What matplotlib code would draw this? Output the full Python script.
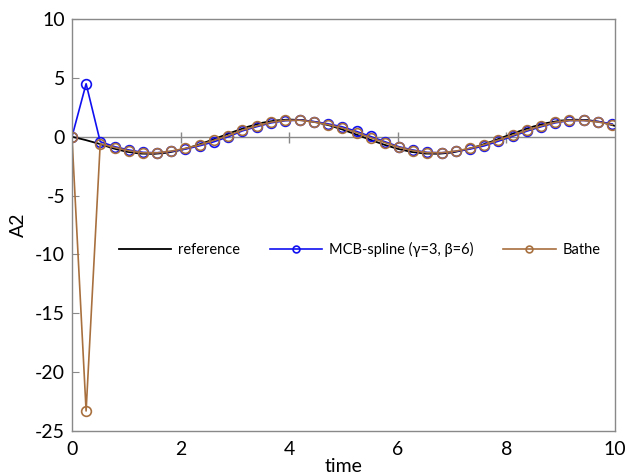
import matplotlib as mpl
mpl.use('Agg')
import matplotlib.pyplot as plt

plt.rcParams['font.family'] = ['Lato', 'DejaVu Sans']
plt.rcParams['axes.unicode_minus'] = False

# time samples of the integrators (step ~0.2618)
t_steps = [0.00, 0.26, 0.52, 0.79, 1.05, 1.31, 1.57, 1.83, 2.09, 2.36,
           2.62, 2.88, 3.14, 3.40, 3.67, 3.93, 4.19, 4.45, 4.71, 4.97,
           5.24, 5.50, 5.76, 6.02, 6.28, 6.54, 6.81, 7.07, 7.33, 7.59,
           7.85, 8.12, 8.38, 8.64, 8.90, 9.16, 9.42, 9.69, 9.95]

a2_mcb = [0.00, 4.50, -0.42, -0.85, -1.13, -1.33, -1.36, -1.25, -1.05, -0.76,
          -0.42, 0.00, 0.50, 0.85, 1.18, 1.36, 1.41, 1.29, 1.10, 0.85,
          0.45, 0.02, -0.42, -0.85, -1.13, -1.33, -1.36, -1.24, -1.05, -0.78,
          -0.38, 0.05, 0.48, 0.85, 1.18, 1.37, 1.38, 1.29, 1.08]

a2_bathe = [0.00, -23.30, -0.60, -0.92, -1.20, -1.37, -1.37, -1.22, -0.99, -0.68,
            -0.30, 0.10, 0.57, 0.92, 1.24, 1.39, 1.40, 1.25, 1.03, 0.75,
            0.35, -0.08, -0.50, -0.90, -1.18, -1.36, -1.36, -1.22, -0.98, -0.68,
            -0.28, 0.13, 0.56, 0.92, 1.23, 1.39, 1.38, 1.25, 1.02]

# reference solution
t_ref = [0.00, 0.25, 0.50, 0.75, 1.00, 1.25, 1.50, 1.75, 2.00, 2.25,
         2.50, 2.75, 3.00, 3.25, 3.50, 3.75, 4.00, 4.25, 4.50, 4.75,
         5.00, 5.25, 5.50, 5.75, 6.00, 6.25, 6.50, 6.75, 7.00, 7.25,
         7.50, 7.75, 8.00, 8.25, 8.50, 8.75, 9.00, 9.25, 9.50, 9.75, 10.00]
a2_ref = [0.00, -0.28, -0.60, -0.98, -1.27, -1.43, -1.46, -1.36, -1.13, -0.80,
          -0.40, 0.03, 0.46, 0.86, 1.18, 1.38, 1.46, 1.41, 1.23, 0.95,
          0.58, 0.16, -0.27, -0.68, -1.03, -1.29, -1.43, -1.45, -1.34, -1.10,
          -0.77, -0.37, 0.06, 0.49, 0.87, 1.17, 1.37, 1.45, 1.41, 1.24, 0.92]

grey = '#898989'
blue = '#1010F0'
brown = '#A8703E'

fig = plt.figure(figsize=(6.27, 4.74), dpi=100)
ax = fig.add_axes([0.1148, 0.0907, 0.8661, 0.8692])

ax.plot(t_ref, a2_ref, color='black', lw=1.3, label='reference')
ax.plot(t_steps, a2_mcb, color=blue, lw=1.2, marker='o', ms=7,
        mfc='none', mec=blue, mew=1.2, label='MCB-spline (γ=3, β=6)')
ax.plot(t_steps, a2_bathe, color=brown, lw=1.2, marker='o', ms=7,
        mfc='none', mec=brown, mew=1.2, label='Bathe')

ax.set_xlim(0, 10)
ax.set_ylim(-25, 10)
ax.set_xticks(range(0, 11, 2))
ax.set_yticks(range(-25, 11, 5))

# horizontal axis line through zero with cross ticks
ax.axhline(0, color=grey, lw=1.0, zorder=0.5)
ax.vlines([2, 4, 6, 8], -0.5, 0.4, color=grey, lw=1.0, zorder=0.5)

for s in ax.spines.values():
    s.set_color(grey)
    s.set_linewidth(1.0)
ax.tick_params(axis='x', length=0, pad=7, labelsize=14)
ax.tick_params(axis='y', direction='in', length=5, color=grey, labelsize=14, pad=5)

ax.set_xlabel('time', fontsize=14, labelpad=0)
ax.set_ylabel('A2', fontsize=14, labelpad=6)

ax.legend(loc='center', bbox_to_anchor=(0.53, 0.44), ncol=3, frameon=False,
          fontsize=10.5, handlelength=3.6, handletextpad=0.5, columnspacing=2.0,
          markerscale=0.7)

fig.savefig('out.png', dpi=100)
